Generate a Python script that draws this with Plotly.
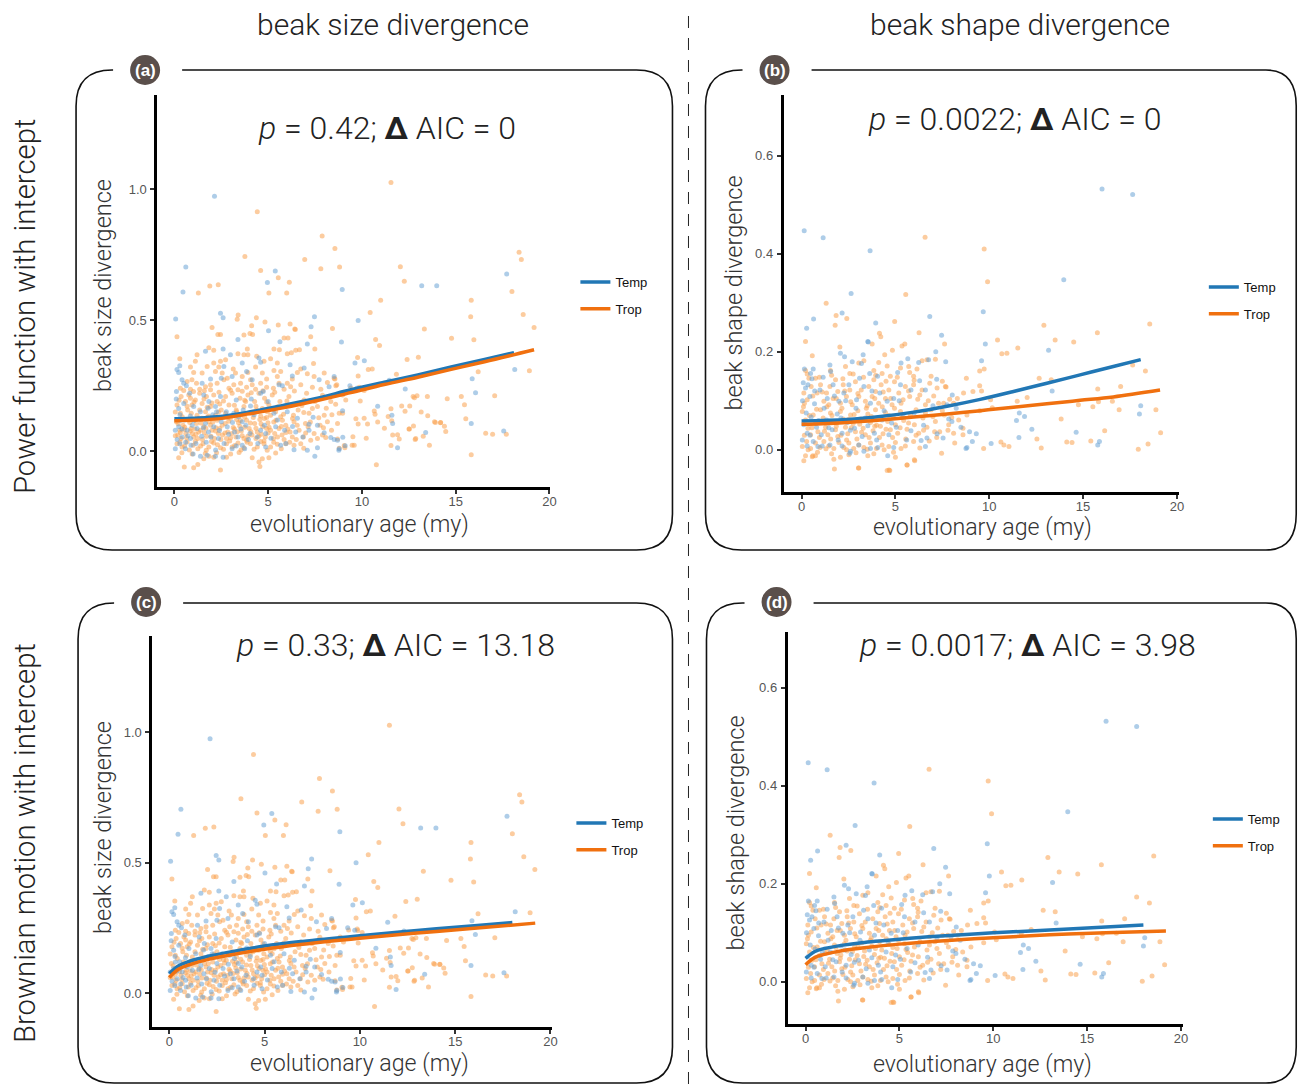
import plotly.graph_objects as go

W, H = 1303, 1084
K = 0.9947  # horizontal compensation observed in the rendered page

# ---------------- DATA ----------------
# beak size divergence vs evolutionary age (my) — used in panels (a) and (c)
size_trop_pts = [
    [11.55,1.026],[4.42,0.914],[7.88,0.822],[8.56,0.774],[3.76,0.744],[18.38,0.76],[18.5,0.732],[12.05,0.705],
    [8.81,0.704],[7.81,0.697],[6.95,0.732],[4.6,0.69],[5.54,0.663],[6.13,0.645],[12.26,0.649],[1.89,0.631],
    [2.34,0.636],[1.28,0.604],[5.04,0.604],[5.99,0.604],[18.0,0.61],[11.0,0.577],[15.83,0.577],[18.6,0.522],
    [15.8,0.514],[10.44,0.53],[19.18,0.473],[14.78,0.432],[15.97,0.426],[13.33,0.467],[8.43,0.469],[10.73,0.427],
    [10.94,0.404],[12.41,0.351],[13.01,0.359],[10.55,0.314],[16.2,0.304],[18.93,0.308],[11.84,0.294],[9.77,0.358],
    [10.34,0.312],[14.55,0.201],[15.3,0.209],[17.08,0.212],[13.49,0.209],[15.47,0.178],[12.73,0.209],[12.12,0.173],
    [12.55,0.173],[11.55,0.163],[13.51,0.136],[15.54,0.124],[13.92,0.11],[14.2,0.11],[14.4,0.096],[14.47,0.076],
    [12.51,0.085],[12.87,0.049],[13.6,0.023],[16.6,0.069],[16.97,0.065],[17.7,0.065],[15.83,-0.013],[10.77,-0.051],
    [11.55,0.022],[10.12,0.126],[10.3,0.104],[9.8,0.104],[9.52,0.056],[9.48,0.023],[9.06,0.022],[10.23,0.05],
    [10.84,0.112],[11.2,0.088],[11.9,0.063],[11.4,0.133],[11.59,0.117],[9.41,0.242],[9.89,0.24],
    [2.01,0.473],[3.4,0.52],[3.35,0.504],[4.37,0.51],[4.12,0.479],[4.83,0.494],[5.54,0.482],[6.17,0.486],
    [6.42,0.467],[3.71,0.444],
    [9.8,0.288],[8.56,0.276],[8.66,0.254],[9.86,0.245],[10.12,0.232],[8.97,0.215],[9.91,0.192],[9.14,0.196],
    [12.8,0.205],[12.94,0.212],[10.66,0.154],[10.7,0.142],[12.3,0.153],[13.16,0.15],[8.97,0.145],[9.68,0.124],
    [13.87,0.113],[14.19,0.109],[11.64,0.062],[11.99,0.047],[12.84,0.045],[13.27,0.058],[8.7,0.047],[8.79,0.012],
    [9.09,0.014],[9.59,0.023],[12.53,0.085],[12.75,0.097],
    [0.14,0.437],[2.32,0.446],[2.46,0.446],[4.03,0.45],[4.17,0.446],[5.85,0.433],[6.06,0.433],[6.45,0.465],
    [7.27,0.437],[1.84,0.395],[2.1,0.386],[3.89,0.391],[5.31,0.391],[5.6,0.388],[6.67,0.388],[7.49,0.391],
    [1.21,0.369],[3.39,0.373],[3.71,0.369],[3.92,0.369],[4.39,0.363],[6.02,0.373],[6.24,0.376],[6.47,0.386],
    [1.12,0.344],[2.46,0.344],[2.73,0.35],[4.78,0.344],[5.13,0.353],[5.49,0.337],[7.42,0.335],[0.86,0.322],
    [2.37,0.322],[3.14,0.314],[4.33,0.322],[5.31,0.309],[6.74,0.314],[7.09,0.296],[0.29,0.353],
    [1.03,0.301],[1.48,0.299],[1.75,0.324],[2.1,0.337],[2.19,0.305],[2.55,0.299],[2.82,0.279],[3.26,0.299],
    [3.62,0.286],[3.92,0.301],[4.06,0.273],[4.69,0.299],[4.92,0.276],[5.49,0.286],[5.67,0.305],[6.02,0.26],
    [6.29,0.276],[6.56,0.301],[7.45,0.286],[7.99,0.299],[8.52,0.279],[0.68,0.267],[0.94,0.273],[1.18,0.26],
    [1.66,0.247],[1.93,0.254],[2.28,0.26],[2.64,0.273],[2.91,0.241],[3.17,0.254],[3.53,0.26],[3.85,0.245],
    [4.15,0.254],[4.6,0.26],[4.92,0.245],[5.28,0.241],[5.58,0.26],[5.85,0.237],[6.2,0.247],[6.74,0.254],
    [7.36,0.245],[7.81,0.237],[8.16,0.263],[8.61,0.25],[0.32,0.241],[0.86,0.237],[1.35,0.237],[1.93,0.235],
    [3.39,0.235],[4.33,0.237],
    [0.14,0.177],[0.36,0.209],[0.59,0.19],[0.77,0.215],[0.94,0.177],[1.12,0.196],[1.35,0.222],[1.48,0.183],
    [1.71,0.209],[1.93,0.171],[2.1,0.215],[2.28,0.19],[2.5,0.158],[2.73,0.209],[2.91,0.177],[3.08,0.222],
    [3.32,0.151],[3.5,0.203],[3.71,0.171],[3.92,0.215],[4.06,0.145],[4.28,0.19],[4.51,0.222],[4.69,0.164],
    [4.81,0.203],[5.04,0.177],[5.22,0.215],[5.4,0.151],[5.63,0.19],[5.88,0.171],[6.11,0.209],[6.35,0.138],
    [6.6,0.158],[6.92,0.196],[7.18,0.145],[7.63,0.171],[7.99,0.138],[8.34,0.19],[8.79,0.145],[0.32,0.145],
    [0.71,0.158],[1.21,0.138],[1.66,0.151],[2.19,0.138],[2.73,0.145],[3.53,0.138],[4.6,0.135],[5.13,0.138],
    [5.67,0.132],[0.86,0.203],[1.75,0.168],[2.42,0.181],[3.8,0.19],[4.39,0.158],[4.96,0.151],[7.36,0.164],
    [0.11,0.113],[0.29,0.081],[0.46,0.1],[0.61,0.068],[0.75,0.119],[0.89,0.087],[1.03,0.055],[1.18,0.106],
    [1.3,0.074],[1.46,0.126],[1.57,0.094],[1.71,0.058],[1.85,0.113],[2.01,0.081],[2.14,0.049],[2.28,0.119],
    [2.42,0.087],[2.57,0.062],[2.71,0.106],[2.85,0.074],[2.99,0.126],[3.14,0.091],[3.28,0.055],[3.42,0.109],
    [3.57,0.078],[3.71,0.049],[3.85,0.119],[3.99,0.087],[4.14,0.062],[4.28,0.106],[4.42,0.074],[4.56,0.122],
    [4.71,0.094],[4.85,0.055],[4.99,0.109],[5.13,0.081],[5.28,0.049],[5.42,0.119],[5.58,0.087],[5.74,0.062],
    [5.94,0.1],[6.17,0.074],[6.38,0.113],[6.65,0.081],[6.88,0.055],[7.13,0.094],[7.45,0.068],[7.77,0.1],
    [8.07,0.053],[8.38,0.081],[8.7,0.106],[0.18,0.062],[0.36,0.049],[0.53,0.083],[0.96,0.068],[1.25,0.049],
    [1.39,0.081],[1.93,0.1],[2.35,0.068],[2.78,0.049],[3.07,0.068],[3.49,0.096],[3.92,0.058],[4.35,0.049],
    [4.63,0.065],[4.92,0.087],[5.35,0.068],[5.85,0.045],[6.29,0.055],[7.27,0.042],[7.63,0.049],[1.12,0.122],
    [1.75,0.129],[2.64,0.129],[3.32,0.122],[4.21,0.129],[4.92,0.129],[5.76,0.119],[6.99,0.106],[8.16,0.113],
    [0.14,0.029],[0.41,0.017],[0.68,0.036],[1.0,0.023],[1.25,0.01],[1.53,0.029],[1.84,0.017],[2.1,0.032],
    [2.46,0.014],[2.78,0.029],[3.08,0.017],[3.39,0.032],[3.71,0.014],[4.06,0.029],[4.42,0.017],[4.78,0.029],
    [5.13,0.017],[5.49,0.027],[5.94,0.029],[6.38,0.023],[0.23,-0.024],[0.53,-0.06],[1.03,-0.063],[1.25,-0.05],
    [1.57,-0.028],[1.84,-0.019],[2.1,-0.022],[2.46,-0.071],[2.78,-0.022],[4.15,-0.024],[4.51,-0.041],[4.56,-0.058],
    [4.69,-0.028],[5.04,-0.024],[6.74,0.029],
    [0.5,0.232],[1.02,0.228],[1.6,0.231],[2.38,0.226],[3.0,0.233],[3.62,0.229],[4.1,0.224],[4.72,0.231],
    [5.35,0.226],[6.4,0.23],[7.05,0.222],[7.9,0.214],
    [0.25,0.195],[0.68,0.172],[1.05,0.188],[1.58,0.2],[2.0,0.185],[2.62,0.192],[3.2,0.176],[3.75,0.195],
    [4.35,0.172],[4.92,0.188],[5.5,0.17],[6.0,0.192],[6.8,0.175],[7.5,0.19],[8.1,0.165],[8.6,0.18],
    [0.05,0.15],[0.42,0.132],[0.9,0.145],[1.35,0.158],[1.82,0.135],[2.35,0.15],[2.85,0.128],[3.3,0.158],
    [3.75,0.13],[4.25,0.148],[4.8,0.125],[5.3,0.16],[5.82,0.142],[6.3,0.125],[6.9,0.148],[7.7,0.128],[8.4,0.14],
    [0.2,0.105],[0.55,0.092],[0.82,0.11],[1.1,0.085],[1.42,0.108],[1.68,0.088],[2.05,0.112],[2.22,0.09],
    [2.55,0.1],[2.9,0.115],[3.2,0.085],[3.52,0.118],[3.75,0.092],[4.05,0.108],[4.35,0.088],[4.62,0.105],
    [5.05,0.092],[5.3,0.112],[5.7,0.095],[6.05,0.085],[6.55,0.1],[7.25,0.112],[7.95,0.09],
    [0.05,0.06],[0.32,0.072],[0.65,0.052],[0.85,0.078],[1.15,0.065],[1.5,0.045],[1.6,0.072],[1.95,0.058],
    [2.2,0.078],[2.48,0.045],[2.7,0.07],[3.0,0.052],[3.35,0.075],[3.62,0.06],[3.85,0.042],[4.08,0.075],
    [4.5,0.058],[4.78,0.04],[5.0,0.07],[5.5,0.055],[5.95,0.072],[6.5,0.045],[7.0,0.07],[7.9,0.062],
    [0.3,0.035],[0.55,0.02],[0.8,0.005],[1.12,0.038],[1.4,0.02],[1.7,0.004],[1.98,0.038],[2.3,0.025],
    [2.62,0.008],[2.95,0.04],[3.22,0.022],[3.55,0.005],[3.88,0.035],[4.25,0.008],[4.6,0.038],[4.95,0.004],
    [5.3,0.035],[5.7,0.01],[6.15,0.035],[6.9,0.012],
    [0.4,-0.005],[0.95,-0.01],[1.65,-0.008],[2.25,-0.005],[3.0,-0.01],[3.45,-0.004],[5.4,-0.006],
]
size_temp_pts = [
    [2.14,0.974],[0.61,0.704],[0.46,0.608],[5.38,0.688],[4.96,0.644],[8.95,0.618],[13.19,0.632],[13.99,0.632],
    [17.72,0.677],[0.07,0.505],[2.6,0.51],[2.46,0.527],[7.47,0.514],[9.8,0.499],[7.29,0.476],[5.02,0.46],
    [8.91,0.417],[7.09,0.41],[5.63,0.418],[18.15,0.312],[6.38,0.006],[7.49,-0.019],
    [9.63,0.337],[10.13,0.346],[11.46,0.271],[12.31,0.238],[15.88,0.277],[16.06,0.224],[9.36,0.25],[9.73,0.241],
    [10.84,0.172],[8.97,0.155],[11.6,0.138],[11.64,0.106],[15.83,0.106],[13.4,0.072],[17.56,0.078],[8.98,0.054],
    [8.52,0.045],[8.77,0.004],[9.11,0.021],[11.9,0.014],
    [3.39,0.427],[2.6,0.391],[1.66,0.382],
    [2.99,0.369],[3.62,0.337],[4.51,0.356],[4.6,0.34],[6.17,0.331],[0.14,0.312],[0.23,0.301],[0.29,0.327],[2.64,0.324],
    [0.41,0.273],[0.5,0.26],[0.64,0.25],[0.11,0.228],[1.93,0.276],[2.5,0.279],[3.85,0.305],[4.15,0.273],
    [5.58,0.254],[5.76,0.25],[6.29,0.288],[6.92,0.318],[7.72,0.273],[8.25,0.247],[8.52,0.286],[1.48,0.26],[3.08,0.286],
    [0.23,0.164],[0.5,0.183],[0.82,0.222],[1.03,0.171],[1.39,0.151],[1.84,0.19],[2.25,0.151],[2.46,0.209],
    [2.77,0.151],[3.3,0.196],[3.67,0.158],[4.06,0.173],[4.6,0.222],[4.74,0.228],[5.31,0.145],[6.02,0.151],
    [6.56,0.126],[7.18,0.103],[1.57,0.215],[3.17,0.145],[2.19,0.171],
    [0.05,0.081],[0.23,0.094],[0.41,0.055],[0.68,0.081],[0.86,0.049],[1.21,0.087],[1.46,0.058],[1.82,0.074],
    [2.1,0.094],[2.35,0.049],[2.82,0.094],[3.21,0.074],[3.39,0.055],[3.62,0.113],[4.03,0.068],[4.42,0.055],
    [4.87,0.068],[5.4,0.094],[5.88,0.081],[6.47,0.074],[7.18,0.081],[7.63,0.1],[7.99,0.071],[8.34,0.053],
    [8.7,0.042],[0.32,0.119],[1.03,0.117],[1.66,0.106],[2.5,0.113],[3.42,0.132],[3.81,0.1],[4.6,0.081],
    [0.05,0.01],[0.29,0.029],[0.59,0.01],[0.89,0.023],[1.39,-0.019],[1.75,-0.015],[2.19,-0.019],[2.6,-0.022],
    [3.08,0.01],[3.62,0.023],[4.87,0.017],[5.67,0.023],[7.09,0.004],[7.63,0.014],[8.79,0.01],
    [0.1,0.2],[0.3,0.14],[0.55,0.12],[0.72,0.06],[0.95,0.1],[1.15,0.03],[1.3,0.125],[1.55,0.09],[1.7,0.035],
    [1.95,0.055],[2.05,0.14],[2.4,0.08],[2.65,0.03],[2.9,0.065],[3.1,0.11],[3.3,0.02],[3.55,0.085],[3.95,0.045],
    [4.25,0.14],[4.45,0.03],[4.8,0.1],[5.15,0.05],[5.5,0.12],[5.95,0.03],[6.3,0.095],[6.85,0.055],[7.4,0.13],
    [0.15,0.045],[0.4,0.085],[0.85,0.135],[1.0,-0.01],[2.2,0.005],[3.75,0.01],[4.1,0.2],[5.0,0.19],[1.8,0.165],[0.6,0.035],
]

# beak shape divergence vs evolutionary age (my) — used in panels (b) and (d)
shape_trop_pts = [
    [6.58,0.434],[9.73,0.41],[9.91,0.343],[5.55,0.317],[1.31,0.299],[1.84,0.274],[2.41,0.268],[1.79,0.254],
    [4.96,0.262],[4.15,0.238],[4.22,0.231],[6.26,0.239],[10.44,0.224],[10.67,0.196],[10.94,0.197],[11.52,0.208],
    [12.91,0.254],[13.51,0.224],[14.5,0.22],[15.76,0.239],[18.55,0.257],[18.32,0.161],[17.64,0.173],[17.0,0.129],
    [15.78,0.124],[14.75,0.092],[15.52,0.088],[15.82,0.098],[16.56,0.099],[16.92,0.082],[18.88,0.082],[19.13,0.035],
    [18.46,0.012],[17.94,0.001],[16.15,0.039],[15.41,0.018],[14.41,0.015],[14.13,0.016],[13.83,0.063],[12.77,0.004],
    [12.54,0.022],[12.02,0.107],[12.66,0.146],[13.3,0.143],[11.49,0.099],[10.16,0.086],[10.07,0.102],[9.49,0.131],
    [9.59,0.12],[9.49,0.161],[9.73,0.165],[9.13,0.119],[9.49,0.08],[10.62,0.016],[10.78,0.01],[11.05,0.007],
    [9.7,0.003],[5.62,-0.031],[6.03,-0.022],[4.66,-0.041],[3.03,-0.037],[0.6,-0.012],
    [0.21,0.221],[2.04,0.21],[0.57,0.192],[3.76,0.216],[5.35,0.212],[5.5,0.216],[4.84,0.203],[4.43,0.194],
    [7.62,0.216],[7.13,0.185],[6.42,0.182],[0.21,0.162],[0.39,0.146],[1.54,0.162],[2.34,0.17],[3.05,0.177],
    [3.32,0.182],[4.11,0.178],[4.56,0.171],[5.27,0.167],[5.71,0.17],[6.15,0.165],[6.68,0.184],[2.57,0.156],
    [3.85,0.162],[4.29,0.156],[5.76,0.158],[5.97,0.15],
    [0.12,0.116],[0.3,0.102],[0.51,0.129],[0.74,0.146],[0.83,0.116],[1.01,0.133],[1.19,0.099],[1.33,0.116],
    [1.51,0.129],[1.68,0.105],[1.81,0.143],[1.93,0.119],[2.07,0.095],[2.22,0.133],[2.39,0.109],[2.57,0.122],
    [2.7,0.092],[2.87,0.139],[3.05,0.109],[3.18,0.122],[3.4,0.099],[3.58,0.129],[3.76,0.109],[3.94,0.119],
    [4.11,0.095],[4.24,0.133],[4.47,0.105],[4.65,0.122],[4.82,0.092],[4.95,0.139],[5.18,0.116],[5.41,0.102],
    [5.53,0.129],[5.76,0.109],[5.97,0.133],[6.19,0.103],[6.42,0.122],[6.6,0.092],[6.83,0.136],[7.04,0.11],
    [7.22,0.126],[7.66,0.129],[7.89,0.103],[8.1,0.095],[8.63,0.116],[8.78,0.146],[7.57,0.095],[3.85,0.143],[4.73,0.15],
    [0.04,0.078],[0.21,0.061],[0.34,0.044],[0.48,0.031],[0.62,0.071],[0.74,0.054],[0.87,0.037],[1.01,0.082],
    [1.15,0.065],[1.28,0.046],[1.4,0.031],[1.54,0.075],[1.68,0.058],[1.81,0.041],[1.93,0.027],[2.07,0.078],
    [2.22,0.063],[2.34,0.046],[2.46,0.033],[2.61,0.071],[2.75,0.054],[2.87,0.037],[3.0,0.08],[3.14,0.063],
    [3.28,0.044],[3.4,0.031],[3.53,0.073],[3.67,0.056],[3.81,0.039],[3.94,0.082],[4.06,0.065],[4.2,0.048],
    [4.34,0.033],[4.47,0.076],[4.59,0.058],[4.73,0.041],[4.88,0.068],[5.0,0.051],[5.12,0.034],[5.27,0.078],
    [5.44,0.06],[5.62,0.042],[5.8,0.071],[6.01,0.051],[6.24,0.034],[6.47,0.065],[6.68,0.046],[6.9,0.082],
    [7.13,0.058],[7.36,0.037],[7.61,0.071],[7.84,0.051],[8.1,0.034],[8.37,0.061],[8.6,0.044],[8.81,0.071],
    [0.04,0.007],[0.27,0.017],[0.48,0.003],[0.74,0.014],[0.98,0.005],[1.19,0.017],[1.45,0.008],[1.72,0.003],
    [1.99,0.015],[2.25,0.005],[2.52,0.014],[2.78,0.003],[3.05,0.01],[3.32,0.005],[3.67,0.014],[3.99,0.003],
    [4.29,0.01],[4.65,0.007],[5.0,0.015],[5.53,0.008],[5.97,0.017],[0.21,-0.012],[0.12,-0.022],[0.57,-0.014],
    [0.74,-0.012],[1.72,-0.019],[2.07,-0.015],[2.52,-0.01],[1.75,-0.039],[3.05,-0.037],[3.53,-0.012],[4.56,-0.042],
    [4.7,-0.042],[5.0,-0.015],[5.62,-0.031],[6.01,-0.02],[8.6,0.031],[8.16,0.014],[7.46,-0.007],[7.09,0.037],[7.7,0.128],
    [0.3,0.155],[0.95,0.148],[1.6,0.152],[2.2,0.145],[2.75,0.155],[3.3,0.148],[3.95,0.152],[4.5,0.14],
    [5.1,0.148],[6.0,0.142],[6.9,0.15],[7.5,0.14],
    [0.15,0.095],[0.6,0.11],[1.1,0.118],[1.45,0.092],[1.85,0.105],[2.3,0.12],[2.62,0.098],[3.0,0.115],
    [3.5,0.09],[3.9,0.105],[4.35,0.118],[4.75,0.105],[5.3,0.095],[5.7,0.12],[6.3,0.112],[6.75,0.1],[7.3,0.095],[8.3,0.105],
    [0.1,0.088],[0.42,0.07],[0.8,0.083],[1.05,0.058],[1.35,0.088],[1.62,0.07],[1.88,0.055],[2.15,0.085],
    [2.5,0.062],[2.8,0.072],[3.1,0.052],[3.45,0.085],[3.72,0.068],[4.0,0.05],[4.3,0.088],[4.65,0.07],
    [4.95,0.085],[5.35,0.066],[5.7,0.055],[6.1,0.082],[6.6,0.075],[7.0,0.068],[7.5,0.08],[8.0,0.066],
    [0.15,0.03],[0.55,0.045],[0.95,0.025],[1.22,0.038],[1.55,0.022],[1.85,0.048],[2.1,0.03],[2.4,0.02],
    [2.65,0.045],[2.95,0.022],[3.2,0.036],[3.6,0.025],[3.9,0.048],[4.15,0.025],[4.5,0.042],[4.85,0.025],
    [5.25,0.045],[5.55,0.022],[6.1,0.03],[6.5,0.04],[7.2,0.025],[7.8,0.04],
    [0.35,0.0],[0.85,-0.005],[1.3,0.002],[1.6,-0.008],[2.4,0.0],[2.9,-0.006],[3.5,0.001],[3.85,-0.008],
    [4.4,0.0],[4.9,-0.005],[5.3,0.003],[6.3,0.004],[6.8,0.018],
]
shape_temp_pts = [
    [16.01,0.532],[17.64,0.521],[0.14,0.447],[1.15,0.433],[3.65,0.406],[2.64,0.319],[13.97,0.347],[9.68,0.282],
    [9.79,0.216],[6.83,0.272],[2.16,0.279],[0.64,0.267],[0.27,0.248],[3.95,0.259],[3.55,0.22],[7.46,0.234],
    [13.16,0.203],[9.59,0.182],[13.35,0.12],[18.07,0.09],[18.0,0.073],[14.63,0.036],[15.87,0.017],[15.78,0.01],
    [11.88,0.068],[11.6,0.075],[11.45,0.06],[12.27,0.042],[11.58,0.025],[10.1,0.013],[9.1,0.017],[8.95,0.037],
    [9.31,0.033],[8.76,0.003],
    [3.53,0.221],[2.07,0.197],[2.29,0.19],[3.28,0.194],[3.19,0.176],[1.51,0.173],[0.62,0.165],[0.48,0.156],
    [1.15,0.148],[3.09,0.146],[3.63,0.156],[5.12,0.158],[5.66,0.186],[5.3,0.177],[6.24,0.178],[6.77,0.184],
    [7.15,0.2],[7.68,0.18],[0.09,0.137],[0.34,0.133],
    [0.21,0.126],[0.44,0.109],[0.69,0.094],[0.98,0.122],[1.37,0.105],[1.68,0.133],[1.99,0.099],[2.25,0.116],
    [2.52,0.133],[2.93,0.102],[3.32,0.129],[3.67,0.095],[4.17,0.116],[4.56,0.099],[4.91,0.105],[5.27,0.133],
    [5.83,0.122],[6.29,0.141],[6.6,0.122],[7.2,0.144],[8.03,0.112],[7.75,0.092],[8.24,0.085],
    [0.12,0.051],[0.3,0.034],[0.51,0.067],[0.8,0.046],[1.05,0.031],[1.33,0.061],[1.63,0.041],[1.9,0.073],
    [2.16,0.034],[2.43,0.056],[2.82,0.044],[3.23,0.027],[3.53,0.049],[3.88,0.034],[4.29,0.061],[4.65,0.031],
    [5.05,0.046],[5.41,0.068],[5.83,0.039],[6.37,0.019],[6.68,0.024],[7.22,0.033],[7.54,0.024],[7.84,0.063],
    [8.01,0.058],[8.49,0.046],[8.81,0.005],[6.6,0.007],
    [0.04,0.02],[0.3,0.008],[0.62,0.017],[0.87,0.007],[1.51,0.01],[2.16,0.008],[2.61,-0.003],[3.32,-0.003],
    [3.67,0.003],[4.06,0.005],[4.59,-0.012],[4.91,0.005],[2.57,-0.007],
    [0.05,0.1],[0.25,0.075],[0.45,0.03],[0.7,0.12],[0.9,0.06],[1.1,0.008],[1.2,0.085],[1.45,0.045],[1.75,0.11],
    [1.95,0.02],[2.1,0.065],[2.35,0.1],[2.6,0.04],[2.9,0.085],[3.05,0.01],[3.4,0.065],[3.75,0.12],[4.0,0.02],
    [4.4,0.08],[4.8,0.055],[5.2,0.1],[5.6,0.02],[6.0,0.075],[6.5,0.05],[7.0,0.09],[0.55,0.145],[1.55,0.16],
    [0.15,0.165],[2.7,0.18],[4.05,0.15],
]

# fitted curves
pf_size_temp_x = [0, 2.28, 4.06, 5.85, 7.63, 9.41, 11.19, 12.98, 14.76, 16.54, 18.11]
pf_size_temp_y = [0.124, 0.132, 0.151, 0.176, 0.203, 0.235, 0.264, 0.292, 0.322, 0.351, 0.377]
pf_size_trop_x = [0, 2.28, 4.06, 5.85, 7.63, 9.41, 11.19, 12.98, 14.76, 16.54, 19.18]
pf_size_trop_y = [0.117, 0.124, 0.144, 0.167, 0.194, 0.224, 0.255, 0.283, 0.313, 0.342, 0.388]

pf_shape_temp_x = [0, 2.43, 4.2, 5.98, 7.75, 9.52, 11.29, 13.07, 14.84, 16.61, 18.07]
pf_shape_temp_y = [0.059, 0.062, 0.068, 0.077, 0.089, 0.103, 0.119, 0.136, 0.153, 0.170, 0.184]
pf_shape_trop_x = [0, 2.43, 4.2, 5.98, 7.75, 9.52, 11.29, 13.07, 14.84, 16.61, 19.1]
pf_shape_trop_y = [0.052, 0.056, 0.061, 0.067, 0.073, 0.080, 0.087, 0.094, 0.101, 0.108, 0.122]

bm_size_temp_x = [0, 0.5, 1, 2, 3, 5, 7, 10, 13, 16, 18]
bm_size_temp_y = [0.075, 0.105, 0.12, 0.14, 0.155, 0.18, 0.198, 0.22, 0.24, 0.258, 0.27]
bm_size_trop_x = [0, 0.5, 1, 2, 3, 5, 7, 10, 13, 16, 19.2]
bm_size_trop_y = [0.06, 0.092, 0.107, 0.128, 0.143, 0.168, 0.187, 0.21, 0.23, 0.248, 0.268]

bm_shape_temp_x = [0, 0.5, 1, 2, 3, 5, 7, 10, 13, 16, 18]
bm_shape_temp_y = [0.048, 0.062, 0.068, 0.075, 0.08, 0.087, 0.093, 0.1, 0.106, 0.112, 0.116]
bm_shape_trop_x = [0, 0.5, 1, 2, 3, 5, 7, 10, 13, 16, 19.2]
bm_shape_trop_y = [0.035, 0.05, 0.056, 0.064, 0.069, 0.077, 0.083, 0.09, 0.096, 0.1, 0.104]

panel_titles = ["<i>p</i> = 0.42; <b>Δ</b> AIC = 0", "<i>p</i> = 0.0022; <b>Δ</b> AIC = 0",
                "<i>p</i> = 0.33; <b>Δ</b> AIC = 13.18", "<i>p</i> = 0.0017; <b>Δ</b> AIC = 3.98"]
panel_letters = ["(a)", "(b)", "(c)", "(d)"]
col_headers = ["beak size divergence", "beak shape divergence"]
row_headers = ["Power function with intercept", "Brownian motion with intercept"]
x_ticks = [0, 5, 10, 15, 20]
size_ticks = [0.0, 0.5, 1.0]
shape_ticks = [0.0, 0.2, 0.4, 0.6]
groups = ["Temp", "Trop"]

# ---------------- STYLE ----------------
C_TEMP_LINE = "#2177b5"
C_TROP_LINE = "#f0700f"
C_TEMP_PT = "rgba(100,160,210,0.52)"
C_TROP_PT = "rgba(249,162,80,0.55)"
LIGHT = "Roboto"


def px(x):
    return min(x / (W * K), 0.9994)


def py(y):
    return 1 - y / H


# panel geometry in pixels: axis box (left, right, top, bottom), ranges
panels = [
    dict(dom=(157, 550, 95, 487), xr=(-0.92, 20.05), yr=(-0.136, 1.36), ticks=size_ticks,
         ytitle="beak size divergence", data=("size", "pf"),
         box=(76, 672, 70, 550), lab=(145, 70), title=(387, 128), ytl=(103, 286), xtl=(359, 524), leg=(575, 267)),
    dict(dom=(783, 1178, 95, 492), xr=(-0.96, 20.1), yr=(-0.086, 0.724), ticks=shape_ticks,
         ytitle="beak shape divergence", data=("shape", "pf"),
         box=(705, 1301, 70, 550), lab=(774, 70), title=(1014, 119), ytl=(733, 293), xtl=(982, 527), leg=(1203, 272)),
    dict(dom=(152, 552, 636, 1027), xr=(-0.9, 20.1), yr=(-0.13, 1.368), ticks=size_ticks,
         ytitle="beak size divergence", data=("size", "bm"),
         box=(78, 672, 603, 1083), lab=(146, 602), title=(395, 645), ytl=(103, 828), xtl=(359, 1063), leg=(571, 808)),
    dict(dom=(787, 1182, 632, 1024), xr=(-0.96, 20.1), yr=(-0.086, 0.714), ticks=shape_ticks,
         ytitle="beak shape divergence", data=("shape", "bm"),
         box=(706, 1301, 603, 1083), lab=(776, 602), title=(1027, 645), ytl=(735, 833), xtl=(982, 1064), leg=(1207, 804)),
]

pts = {"size": (size_temp_pts, size_trop_pts), "shape": (shape_temp_pts, shape_trop_pts)}
curves = {
    ("size", "pf"): ((pf_size_temp_x, pf_size_temp_y), (pf_size_trop_x, pf_size_trop_y)),
    ("shape", "pf"): ((pf_shape_temp_x, pf_shape_temp_y), (pf_shape_trop_x, pf_shape_trop_y)),
    ("size", "bm"): ((bm_size_temp_x, bm_size_temp_y), (bm_size_trop_x, bm_size_trop_y)),
    ("shape", "bm"): ((bm_shape_temp_x, bm_shape_temp_y), (bm_shape_trop_x, bm_shape_trop_y)),
}

fig = go.Figure()
layout = dict(
    width=W, height=H, margin=dict(l=0, r=0, t=0, b=0),
    paper_bgcolor="white", plot_bgcolor="white",
    font=dict(family="Liberation Sans, Arial, sans-serif", color="#222"),
    showlegend=True,
)
shapes = []
annotations = []

for i, p in enumerate(panels):
    n = "" if i == 0 else str(i + 1)
    xa, ya = "x" + n, "y" + n
    l, r, t, b = p["dom"]
    common = dict(showline=True, linecolor="black", linewidth=2.5, ticks="outside", ticklen=4, tickwidth=1.5,
                  tickcolor="#333", tickfont=dict(size=13, color="#555"), showgrid=False, zeroline=False)
    layout["xaxis" + n] = dict(domain=[px(l), px(r)], anchor=ya, range=list(p["xr"]), tickvals=x_ticks,
                               ticklabelstandoff=-3, **common)
    layout["yaxis" + n] = dict(domain=[py(b), py(t)], anchor=xa, range=list(p["yr"]), tickvals=p["ticks"],
                               ticktext=[f"{v:.1f}" for v in p["ticks"]], ticklabelstandoff=1, **common)
    kind, model = p["data"]
    temp_pts, trop_pts = pts[kind]
    fig.add_trace(go.Scatter(
        x=[q[0] for q in trop_pts], y=[q[1] for q in trop_pts], mode="markers",
        marker=dict(size=5, color=C_TROP_PT, line=dict(width=0)),
        xaxis=xa, yaxis=ya, showlegend=False, hoverinfo="skip"))
    fig.add_trace(go.Scatter(
        x=[q[0] for q in temp_pts], y=[q[1] for q in temp_pts], mode="markers",
        marker=dict(size=5, color=C_TEMP_PT, line=dict(width=0)),
        xaxis=xa, yaxis=ya, showlegend=False, hoverinfo="skip"))
    leg = "legend" + n
    (tx, ty), (ox, oy) = curves[p["data"]]
    fig.add_trace(go.Scatter(
        x=tx, y=ty, mode="lines", line=dict(color=C_TEMP_LINE, width=3.5, shape="spline"),
        name=groups[0], legend=leg, legendgroup="temp" + n, xaxis=xa, yaxis=ya))
    fig.add_trace(go.Scatter(
        x=ox, y=oy, mode="lines", line=dict(color=C_TROP_LINE, width=3.5, shape="spline"),
        name=groups[1], legend=leg, legendgroup="trop" + n, xaxis=xa, yaxis=ya))
    lx, ly = p["leg"]
    layout[leg] = dict(
        x=px(lx), y=py(ly), xanchor="left", yanchor="top", bgcolor="rgba(0,0,0,0)",
        font=dict(size=13, color="#111"), itemwidth=30, tracegroupgap=7, traceorder="grouped",
    )

    # rounded panel box with a gap for the label
    bl, br, bt, bb = p["box"]
    cx, cy = p["lab"]
    rad = 36
    gl, gr = cx - 32, cx + 37

    def P(x, y):
        return f"{px(x):.5f},{py(y):.5f}"
    path = (f"M{P(gl, bt)} L{P(bl + rad, bt)} Q{P(bl, bt)} {P(bl, bt + rad)} "
            f"L{P(bl, bb - rad)} Q{P(bl, bb)} {P(bl + rad, bb)} L{P(br - rad, bb)} "
            f"Q{P(br, bb)} {P(br, bb - rad)} L{P(br, bt + rad)} Q{P(br, bt)} {P(br - rad, bt)} L{P(gr, bt)}")
    shapes.append(dict(type="path", xref="paper", yref="paper", path=path,
                       line=dict(color="#111", width=1.6)))
    shapes.append(dict(type="circle", xref="paper", yref="paper", xsizemode="pixel", ysizemode="pixel",
                       xanchor=px(cx), yanchor=py(cy), x0=-15, x1=15, y0=-15, y1=15,
                       fillcolor="#5a4f4b", line=dict(width=0)))
    annotations.append(dict(text="<b>" + panel_letters[i] + "</b>", x=px(cx), y=py(cy), xref="paper",
                            yref="paper", showarrow=False, font=dict(size=17, color="white",
                            family="Liberation Sans, Arial"), xanchor="center", yanchor="middle"))
    annotations.append(dict(text=panel_titles[i], x=px(p["title"][0]), y=py(p["title"][1]), xref="paper",
                            yref="paper", showarrow=False, xanchor="center", yanchor="middle",
                            font=dict(size=32, color="#222", family=LIGHT, weight=300)))
    annotations.append(dict(text=p["ytitle"], x=px(p["ytl"][0]), y=py(p["ytl"][1]), xref="paper",
                            yref="paper", showarrow=False, textangle=-90, xanchor="center", yanchor="middle",
                            font=dict(size=23.5, color="#333", family=LIGHT, weight=300)))
    annotations.append(dict(text="evolutionary age (my)", x=px(p["xtl"][0]), y=py(p["xtl"][1]), xref="paper",
                            yref="paper", showarrow=False, xanchor="center", yanchor="middle",
                            font=dict(size=23.2, color="#333", family=LIGHT, weight=300)))

# column / row headers
for txt, (x, y) in zip(col_headers, [(393, 25), (1019, 25)]):
    annotations.append(dict(text=txt, x=px(x), y=py(y), xref="paper", yref="paper", showarrow=False,
                            xanchor="center", yanchor="middle",
                            font=dict(size=30, color="#222", family=LIGHT, weight=300)))
for txt, (x, y) in zip(row_headers, [(25, 307), (25, 843)]):
    annotations.append(dict(text=txt, x=px(x), y=py(y), xref="paper", yref="paper", showarrow=False,
                            textangle=-90, xanchor="center", yanchor="middle",
                            font=dict(size=29.3, color="#222", family=LIGHT, weight=300)))

# dashed column divider
shapes.append(dict(type="line", xref="paper", yref="paper", x0=px(688), x1=px(688), y0=0, y1=py(8),
                   line=dict(color="#222", width=1, dash="12px,10px")))

layout["shapes"] = shapes
layout["annotations"] = annotations
fig.update_layout(**layout)
fig.write_html("out.html")
